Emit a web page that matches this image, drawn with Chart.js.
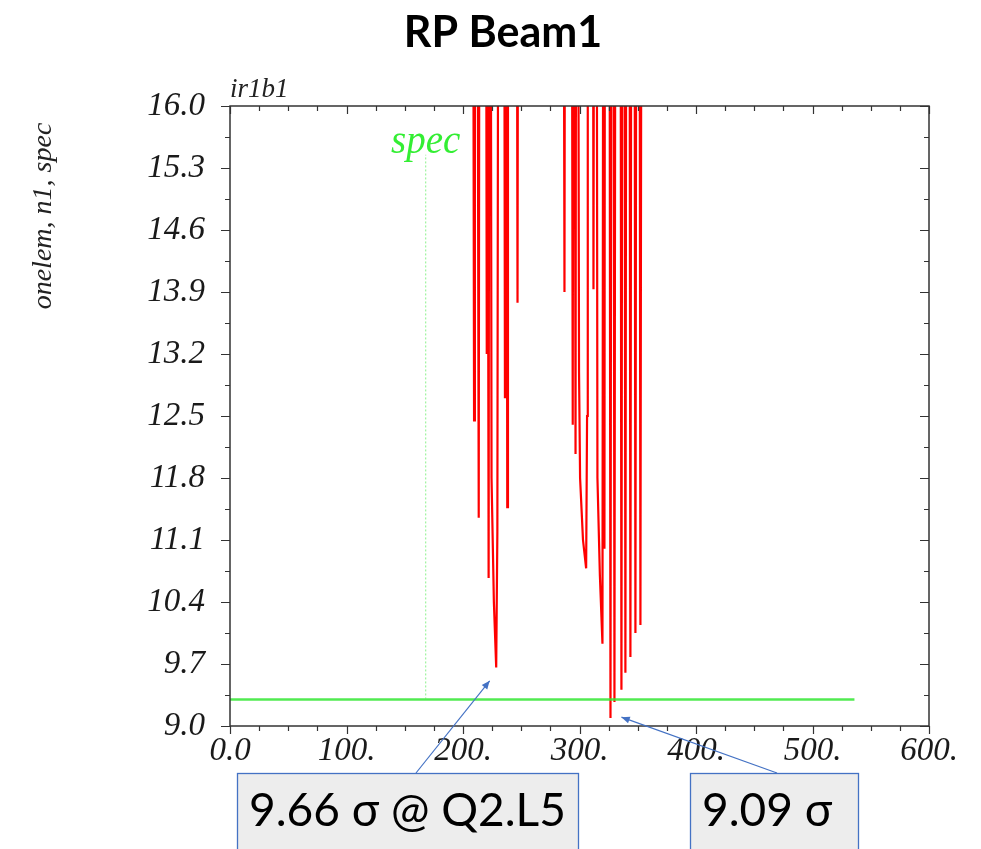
<!DOCTYPE html>
<html>
<head>
<meta charset="utf-8">
<script src="https://cdn.jsdelivr.net/npm/chart.js@4.4.1/dist/chart.umd.min.js"></script>
<style>
  html, body { margin: 0; padding: 0; background: #fff; }
  #wrap { width: 981px; height: 849px; }
</style>
</head>
<body>
<div id="wrap"><canvas id="c" width="981" height="849"></canvas></div>
<script>
// n1 aperture along s; values of 20 are off the top of the plot (large apertures)
const apS = [
  208.5, 209.5, 210.2, 212.2, 213.5, 214.2,
  219.6, 220.4, 220.9, 221.3, 222.0, 222.6,
  223.6, 224.5, 226.5, 228.5, 229.5, 230.4,
  235.2, 236.0, 236.6, 237.3, 238.0, 238.6,
  246.0, 246.8, 247.4,
  286.2, 287.1, 287.7,
  293.2, 294.2, 294.8, 295.6, 296.6, 297.2,
  298.6, 299.6, 300.5, 303.0, 305.7, 306.5, 307.1,
  311.4, 312.0, 312.6,
  314.6, 315.4, 317.5, 319.7, 320.5,
  321.0, 321.4, 321.9,
  325.6, 326.6, 327.5,
  329.1, 330.0, 330.9,
  335.1, 336.0, 336.9,
  338.5, 339.4, 340.3,
  342.8, 343.7, 344.6,
  347.1, 348.0, 348.9,
  351.4, 352.3, 353.3
]
const apN1 = [
  20, 12.45, 20, 20, 11.35, 20,
  20, 13.2, 20, 20, 10.67, 20,
  20, 11.8, 10.4, 9.66, 11.2, 20,
  20, 12.7, 20, 20, 11.47, 20,
  20, 13.78, 20,
  20, 13.9, 20,
  20, 12.4, 20, 20, 12.07, 20,
  20, 13.0, 11.8, 11.1, 10.78, 12.5, 20,
  20, 13.93, 20,
  20, 11.8, 10.7, 9.93, 20,
  20, 11.0, 20,
  20, 9.09, 20,
  20, 9.27, 20,
  20, 9.41, 20,
  20, 9.6, 20,
  20, 9.78, 20,
  20, 10.05, 20,
  20, 10.14, 20
]

// spec level and its marker
const specS = [0, 536]
const specN1 = [9.3, 9.3]
const specMarkS = [168, 168]
const specMarkN1 = [9.3, 15.45]

const xTickLabels = ["0.0", "100.", "200.", "300.", "400.", "500.", "600."]
const yTickLabels = ["9.0", "9.7", "10.4", "11.1", "11.8", "12.5", "13.2", "13.9", "14.6", "15.3", "16.0"]

// annotation call-outs: text, box, arrow tip (in data units)
const notes = [
  { text: "9.66 \u03c3 @ Q2.L5", box: [237, 773, 341, 90], from: [416, 773], tip: [222.9, 9.51] },
  { text: "9.09 \u03c3", box: [690, 773, 168, 90], from: [777, 773], tip: [336, 9.1] },
]

const toPts = (xs, ys) => xs.map((x, i) => ({ x, y: ys[i] }))
const serif = "'Liberation Serif', 'DejaVu Serif', serif"

const decorations = {
  id: "decorations",
  afterDraw(chart) {
    const ctx = chart.ctx
    const a = chart.chartArea
    const xs = chart.scales.x
    const ys = chart.scales.y
    ctx.save()

    // frame
    ctx.strokeStyle = "#333"
    ctx.lineWidth = 1.5
    ctx.strokeRect(a.left, a.top, a.right - a.left, a.bottom - a.top)

    // ticks: x every 25 (major 100), y every 0.35 (major 0.7)
    ctx.lineWidth = 1.2
    ctx.beginPath()
    for (let v = 0; v <= 600; v += 25) {
      const px = Math.round(xs.getPixelForValue(v)) + 0.5
      const len = v % 100 === 0 ? 8 : 5
      ctx.moveTo(px, a.bottom); ctx.lineTo(px, a.bottom + len)
      ctx.moveTo(px, a.top); ctx.lineTo(px, a.top + len)
    }
    for (let k = 0; k <= 20; k++) {
      const py = Math.round(ys.getPixelForValue(9 + k * 0.35)) + 0.5
      const len = k % 2 === 0 ? 9 : 5
      ctx.moveTo(a.left, py); ctx.lineTo(a.left - len, py)
      ctx.moveTo(a.right, py); ctx.lineTo(a.right - len, py)
    }
    ctx.stroke()

    // texts
    ctx.fillStyle = "#000"
    ctx.textAlign = "center"
    ctx.textBaseline = "alphabetic"
    ctx.font = "bold 43px Lato, 'Open Sans', sans-serif"
    ctx.fillText("RP Beam1", 503, 47)

    ctx.fillStyle = "#222"
    ctx.textAlign = "left"
    ctx.font = "italic 27px " + serif
    ctx.fillText("ir1b1", a.left, 97)

    ctx.fillStyle = "#33ee33"
    ctx.textAlign = "center"
    ctx.font = "italic 39px " + serif
    ctx.fillText("spec", xs.getPixelForValue(168), 153)

    ctx.save()
    ctx.translate(44, 216)
    ctx.rotate(-Math.PI / 2)
    ctx.fillStyle = "#222"
    ctx.font = "italic 28px " + serif
    ctx.textBaseline = "middle"
    ctx.fillText("onelem, n1, spec", 0, 0)
    ctx.restore()

    // call-outs
    notes.forEach((n) => {
      const [bx, by, bw, bh] = n.box
      ctx.fillStyle = "#ededed"
      ctx.fillRect(bx, by, bw, bh)
      ctx.strokeStyle = "#4472c4"
      ctx.lineWidth = 1.3
      ctx.strokeRect(bx + 0.5, by + 0.5, bw, bh)
      ctx.fillStyle = "#000"
      ctx.textAlign = "left"
      ctx.textBaseline = "alphabetic"
      ctx.font = "46px Lato, 'Open Sans', sans-serif"
      ctx.fillText(n.text, bx + 12, by + 53)

      const tx = xs.getPixelForValue(n.tip[0])
      const ty = ys.getPixelForValue(n.tip[1])
      const [fx, fy] = n.from
      ctx.strokeStyle = "#4472c4"
      ctx.lineWidth = 1.2
      ctx.beginPath()
      ctx.moveTo(fx, fy); ctx.lineTo(tx, ty)
      ctx.stroke()
      const ang = Math.atan2(ty - fy, tx - fx)
      ctx.fillStyle = "#4472c4"
      ctx.beginPath()
      ctx.moveTo(tx, ty)
      ctx.lineTo(tx - 9 * Math.cos(ang - 0.4), ty - 9 * Math.sin(ang - 0.4))
      ctx.lineTo(tx - 9 * Math.cos(ang + 0.4), ty - 9 * Math.sin(ang + 0.4))
      ctx.closePath()
      ctx.fill()
    })
    ctx.restore()
  },
}

new Chart(document.getElementById("c"), {
  type: "scatter",
  data: {
    datasets: [
      {
        data: toPts(specMarkS, specMarkN1),
        showLine: true,
        borderColor: "rgba(90,235,90,0.7)",
        borderWidth: 1,
        borderDash: [2, 2],
        pointRadius: 0,
      },
      {
        data: toPts(specS, specN1),
        showLine: true,
        borderColor: "rgba(50,230,50,0.85)",
        borderWidth: 2.5,
        pointRadius: 0,
      },
      {
        data: toPts(apS, apN1),
        showLine: true,
        borderColor: "#ff0000",
        borderWidth: 2.2,
        pointRadius: 0,
      },
    ],
  },
  options: {
    responsive: false,
    animation: false,
    events: [],
    layout: { padding: { top: 106, right: 52, bottom: 83, left: 0 } },
    plugins: {
      legend: { display: false },
      title: { display: false },
      tooltip: { enabled: false },
    },
    scales: {
      x: {
        type: "linear",
        min: 0,
        max: 600,
        afterFit: (s) => { s.height = 40 },
        grid: { display: false, drawTicks: false },
        border: { display: false },
        ticks: {
          stepSize: 100,
          padding: 6,
          color: "#1a1a1a",
          font: { family: serif, style: "italic", size: 33 },
          callback: (v, i) => xTickLabels[i],
        },
      },
      y: {
        type: "linear",
        min: 9,
        max: 16,
        afterFit: (s) => { s.width = 230 },
        grid: { display: false, drawTicks: false },
        border: { display: false },
        ticks: {
          stepSize: 0.7,
          padding: 25,
          color: "#1a1a1a",
          font: { family: serif, style: "italic", size: 33 },
          callback: (v, i) => yTickLabels[i],
        },
      },
    },
  },
  plugins: [decorations],
})
</script>
</body>
</html>
